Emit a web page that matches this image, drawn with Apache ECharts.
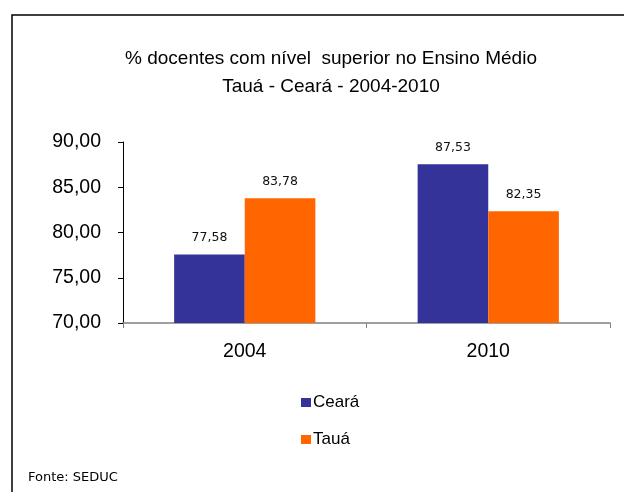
<!DOCTYPE html>
<html>
<head>
<meta charset="utf-8">
<script src="https://cdn.jsdelivr.net/npm/echarts@6/dist/echarts.min.js"></script>
<style>html,body{margin:0;padding:0;background:#fff}#c{width:624px;height:492px}</style>
</head>
<body>
<div id="c"></div>
<script>
const categories = ['2004', '2010'];
const cearaValues = [77.58, 87.53];
const tauaValues = [83.78, 82.35];
const seriesNames = ['Ceará', 'Tauá'];
const yTicks = { min: 70, max: 90, interval: 5 };

const fmt = v => v.toFixed(2).replace('.', ',');
const chart = echarts.init(document.getElementById('c'));
const labelCfg = {
  show: true, position: 'top', distance: 10,
  fontFamily: 'DejaVu Sans', fontSize: 12.5, color: '#111',
  formatter: p => fmt(p.value)
};
chart.setOption({
  animation: false,
  backgroundColor: '#fff',
  title: {
    text: '% docentes com nível  superior no Ensino Médio\nTauá - Ceará - 2004-2010',
    left: 326, textAlign: 'center', top: 40,
    textStyle: { fontFamily: 'Liberation Sans', fontSize: 19, fontWeight: 'normal', color: '#000', lineHeight: 28 }
  },
  grid: { left: 123, right: 14, top: 142, bottom: 169, containLabel: false },
  legend: {
    orient: 'vertical', left: 296, top: 389, itemWidth: 10, itemHeight: 9, itemGap: 20,
    icon: 'rect',
    textStyle: { fontFamily: 'Liberation Sans', fontSize: 17, color: '#000', padding: [0, 0, 0, -3] },
    data: seriesNames
  },
  xAxis: {
    type: 'category', data: categories,
    axisLine: { lineStyle: { color: '#808080', width: 1.5 } },
    axisTick: { show: true, length: 5, lineStyle: { color: '#808080' } },
    axisLabel: { fontFamily: 'Liberation Sans', fontSize: 19.5, color: '#000', margin: 19 }
  },
  yAxis: {
    type: 'value', min: yTicks.min, max: yTicks.max, interval: yTicks.interval,
    axisLine: { show: true, lineStyle: { color: '#000', width: 1 } },
    axisTick: { show: true, length: 5, lineStyle: { color: '#000' } },
    splitLine: { show: false },
    axisLabel: { fontFamily: 'Liberation Sans', fontSize: 19.5, color: '#000', margin: 22, formatter: v => fmt(v) }
  },
  series: [
    { name: seriesNames[0], type: 'bar', data: cearaValues, barGap: '0%', barCategoryGap: '42%',
      itemStyle: { color: '#333399' }, label: labelCfg },
    { name: seriesNames[1], type: 'bar', data: tauaValues,
      itemStyle: { color: '#FF6600' }, label: labelCfg }
  ],
  graphic: [
    { type: 'polyline', shape: { points: [[12, 492], [12, 15], [624, 15]] },
      style: { stroke: '#000', lineWidth: 1.5, fill: null } },
    { type: 'text', left: 28, top: 471,
      style: { text: 'Fonte: SEDUC', fontFamily: 'DejaVu Sans', fontSize: 13, fill: '#000' } }
  ]
});
</script>
</body>
</html>
